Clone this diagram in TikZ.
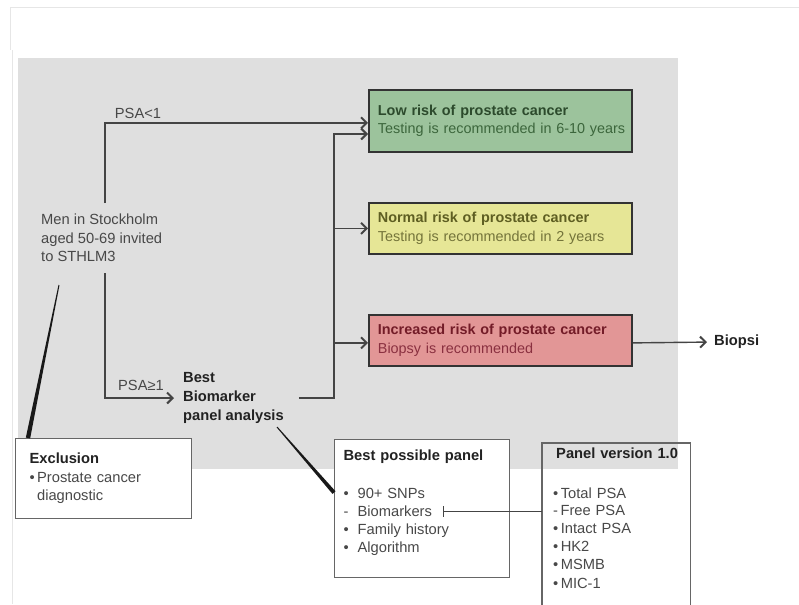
\documentclass[tikz,border=0pt]{standalone}
\usepackage{fontspec}
\setmainfont{Liberation Sans}
\usetikzlibrary{arrows.meta,calc}
\definecolor{bggray}{HTML}{DFDFDF}
\definecolor{connc}{HTML}{444444}
\definecolor{txtgray}{HTML}{484848}
\definecolor{txtdark}{HTML}{222222}
\definecolor{lowfill}{HTML}{9CC39C}
\definecolor{lowtitle}{HTML}{2C4A2C}
\definecolor{lowsub}{HTML}{3C663C}
\definecolor{normfill}{HTML}{E6E696}
\definecolor{normtitle}{HTML}{5E5E22}
\definecolor{normsub}{HTML}{74743A}
\definecolor{incfill}{HTML}{E29696}
\definecolor{inctitle}{HTML}{731C28}
\definecolor{incsub}{HTML}{8A3040}
\definecolor{faintc}{HTML}{E6E6E6}
\definecolor{wborder}{HTML}{666666}
\newcommand\fsz{\fontsize{14.7}{18.5}\selectfont}
\newcommand\fszb{\fontsize{14.4}{18.5}\selectfont}
\tikzset{
  txt/.style={inner sep=0pt, font=\fsz, align=left},
  riskbox/.style={draw=black!80, line width=1.8pt, anchor=north west, inner sep=0pt,
    minimum width=263pt, text width=263pt, align=left, font=\fszb},
  wbox/.style={draw=wborder, line width=1.2pt, fill=white, anchor=north west, inner sep=0pt,
    align=left, font=\fsz},
  conn/.style={draw=connc, line width=1.4pt},
  arr/.style={conn, -{Straight Barb[length=5.5pt,width=11pt,line width=2pt]}},
  faint/.style={draw=faintc, line width=0.8pt},
  wedge/.style={fill=black!90}
}
\begin{document}
\begin{tikzpicture}[x=1pt,y=-1pt]
\useasboundingbox (0,0) rectangle (799,604);
% faint frame lines and grey panel
\draw[faint] (799,7) -- (10,7) -- (10,50);
\draw[faint] (12,50) -- (12,604);
\fill[bggray] (18,58) rectangle (678,469);

% risk boxes
\node[riskbox, fill=lowfill, minimum height=62pt] (low) at (368,89)
  {\hspace*{9pt}\textcolor{lowtitle}{\textbf{Low risk of prostate cancer}}\\
   \hspace*{9pt}\textcolor{lowsub}{Testing is recommended in 6-10 years}};
\node[riskbox, fill=normfill, minimum height=51pt] (norm) at (368,202)
  {\hspace*{9pt}\textcolor{normtitle}{\textbf{Normal risk of prostate cancer}}\\
   \hspace*{9pt}\textcolor{normsub}{Testing is recommended in 2 years}};
\node[riskbox, fill=incfill, minimum height=51pt] (inc) at (368,314)
  {\hspace*{9pt}\textcolor{inctitle}{\textbf{Increased risk of prostate cancer}}\\
   \hspace*{9pt}\textcolor{incsub}{Biopsy is recommended}};

% text nodes
\node[txt, text=txtgray, anchor=north west] (men) at (41,214)
  {Men in Stockholm\\aged 50-69 invited\\to STHLM3};
\node[txt, text=txtdark, anchor=west, font=\bfseries\fontsize{14.7}{19}\selectfont] (bba) at (183,398)
  {Best\\Biomarker\\panel analysis};
\node[txt, text=txtgray] (psa1) at (138,113) {PSA<1};
\node[txt, text=txtgray] (psa2) at (141,385) {PSA≥1};
\node[txt, text=txtdark, anchor=west, font=\bfseries\fsz] (biopsi) at (714,342) {Biopsi};

% white boxes
\node[wbox, minimum width=176pt, minimum height=80pt, text width=176pt] (excl) at (15,438)
  {\hspace*{14pt}\textcolor{txtdark}{\textbf{Exclusion}}\\
   \hspace*{14pt}\textcolor{txtgray}{•\,Prostate cancer}\\
   \hspace*{21.5pt}\textcolor{txtgray}{diagnostic}};
\node[wbox, minimum width=175pt, minimum height=138pt, text width=175pt] (bpp) at (334,439)
  {\hspace*{9pt}\textcolor{txtdark}{\textbf{Best possible panel}}\\[19.5pt]
   \textcolor{txtgray}{\hspace*{9pt}\makebox[14pt][l]{•}90+ SNPs\\[-0.5pt]
   \hspace*{9pt}\makebox[14pt][l]{-}Biomarkers\\[-0.5pt]
   \hspace*{9pt}\makebox[14pt][l]{•}Family history\\[-0.5pt]
   \hspace*{9pt}\makebox[14pt][l]{•}Algorithm}\\[-4.5pt]\mbox{}};
\node[txt, anchor=north west, inner xsep=0pt, inner ysep=4.5pt, text width=148pt] (pv) at (542,443)
  {\hspace*{14pt}\textcolor{txtdark}{\textbf{Panel version 1.0}}\\[22pt]
   \textcolor{txtgray}{\hspace*{11pt}•\,Total PSA\\[-2pt]
   \hspace*{11pt}-\,Free PSA\\[-0.5pt]
   \hspace*{11pt}•\,Intact PSA\\[0pt]
   \hspace*{11pt}•\,HK2\\[-0.5pt]
   \hspace*{11pt}•\,MSMB\\[0pt]
   \hspace*{11pt}•\,MIC-1}};
\draw[draw=wborder, line width=1.2pt] (pv.north west |- 0,606) -- (pv.north west) -- (pv.north east) -- (pv.north east |- 0,606);

% connectors
\coordinate (mtop) at (105,203);
\coordinate (mbot) at (105,273);
\coordinate (spine) at (334,0);
\draw[arr] (mtop) |- ([yshift=-2pt]low.west);
\draw[arr, shorten >=9pt] (mbot) |- (bba.west);
\draw[arr] ([xshift=15pt]bba.east) -| (spine |- 0,134) -- (low.west |- 0,134);
\draw[arr] (norm.west -| spine) -- (norm.west);
\draw[arr] ([yshift=-2.5pt]inc.west -| spine) -- ([yshift=-2.5pt]inc.west);
\draw[arr, shorten >=7pt] ([yshift=-2.5pt]inc.east) -- (biopsi.west);

% wedges to white boxes
\coordinate (e1) at (59,285);
\coordinate (e2) at ([xshift=13pt]excl.north west);
\fill[wedge] ($(e1)!0.5pt!90:(e2)$) -- ($(e1)!0.5pt!-90:(e2)$) -- ($(e2)!2.2pt!90:(e1)$) -- ($(e2)!2.2pt!-90:(e1)$) -- cycle;
\coordinate (f1) at (277,427);
\coordinate (f2) at ([yshift=16pt]bpp.west);
\fill[wedge] ($(f1)!0.5pt!90:(f2)$) -- ($(f1)!0.5pt!-90:(f2)$) -- ($(f2)!2pt!90:(f1)$) -- ($(f2)!2pt!-90:(f1)$) -- cycle;

% biomarkers link
\coordinate (bmk) at (443,511);
\draw[conn, line width=1pt, {Bar[width=11pt,line width=1pt]}-] (bmk) -- (pv.west |- bmk);
\end{tikzpicture}
\end{document}
